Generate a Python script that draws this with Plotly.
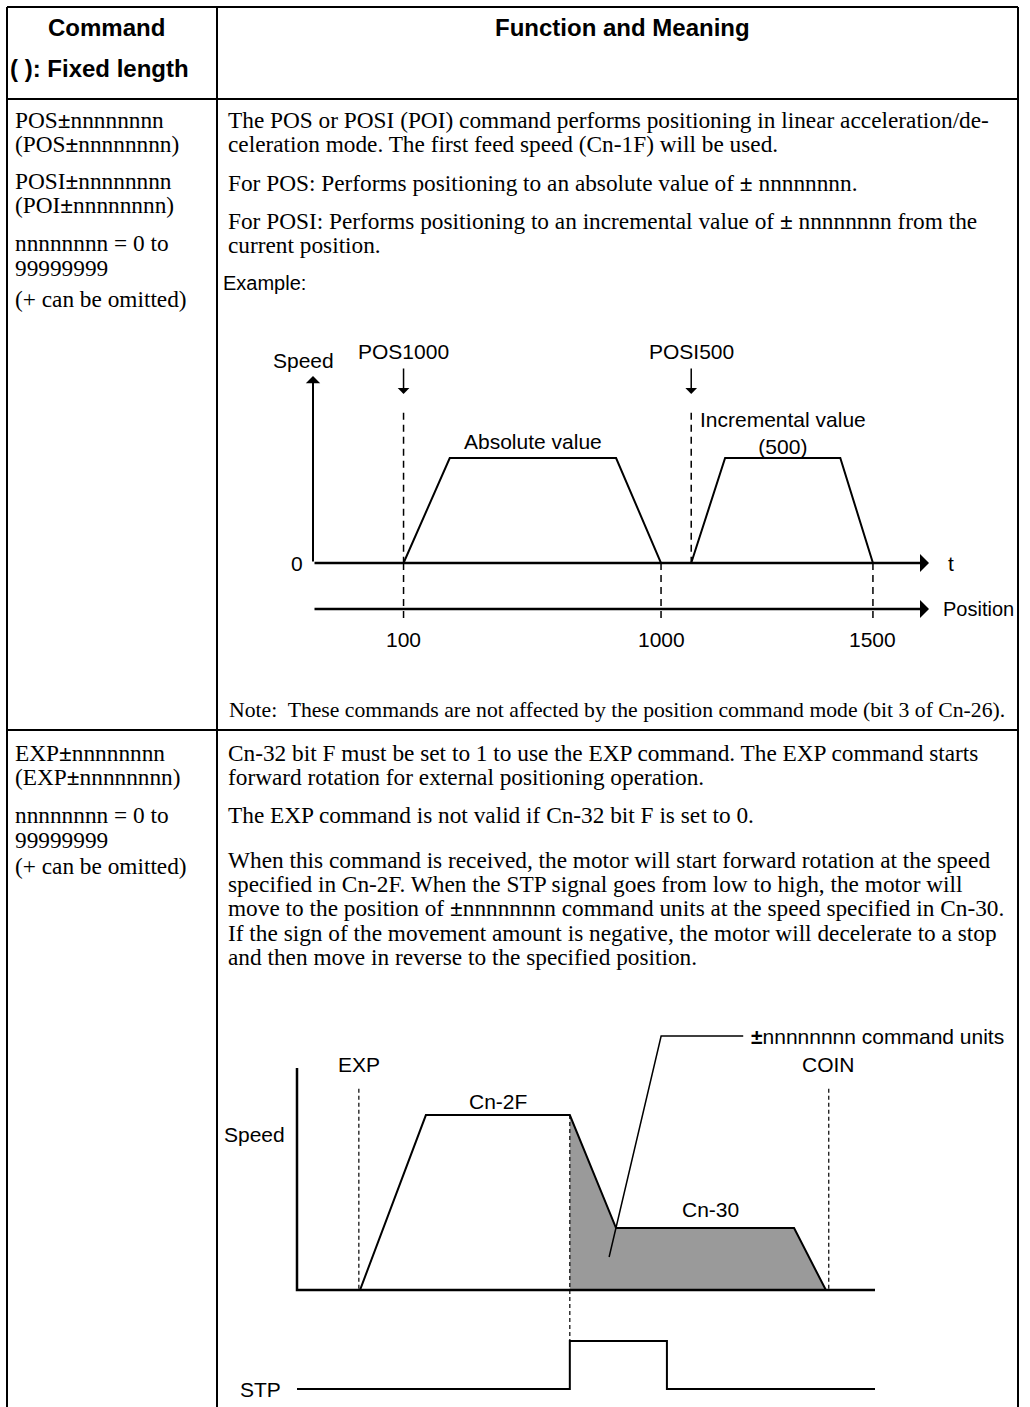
import plotly.graph_objects as go

W, H = 1030, 1407
SERIF = "Liberation Serif, Times New Roman, serif"
SANS = "Liberation Sans, Arial, sans-serif"
PM = "<b>±</b>"

# ---------------- text content ----------------
header_left = ["Command", "( ): Fixed length"]
header_left_y = [27, 68]
header_right = "Function and Meaning"

row1_cmd = [f"POS{PM}nnnnnnnn", f"(POS{PM}nnnnnnnn)", f"POSI{PM}nnnnnnnn",
            f"(POI{PM}nnnnnnnn)", "nnnnnnnn = 0 to", "99999999", "(+ can be omitted)"]
row1_cmd_y = [120, 144, 181, 205, 243, 268, 299]
row1_text = ["The POS or POSI (POI) command performs positioning in linear acceleration/de-",
             "celeration mode. The first feed speed (Cn-1F) will be used.",
             f"For POS: Performs positioning to an absolute value of {PM} nnnnnnnn.",
             f"For POSI: Performs positioning to an incremental value of {PM} nnnnnnnn from the",
             "current position."]
row1_text_y = [120, 144, 183, 221, 245]
example_label = "Example:"
note_text = "Note:\u00a0 These commands are not affected by the position command mode (bit 3 of Cn-26)."

row2_cmd = [f"EXP{PM}nnnnnnnn", f"(EXP{PM}nnnnnnnn)", "nnnnnnnn = 0 to", "99999999", "(+ can be omitted)"]
row2_cmd_y = [753, 777, 815, 840, 866]
row2_text = ["Cn-32 bit F must be set to 1 to use the EXP command. The EXP command starts",
             "forward rotation for external positioning operation.",
             "The EXP command is not valid if Cn-32 bit F is set to 0.",
             "When this command is received, the motor will start forward rotation at the speed",
             "specified in Cn-2F. When the STP signal goes from low to high, the motor will",
             f"move to the position of {PM}nnnnnnnn command units at the speed specified in Cn-30.",
             "If the sign of the movement amount is negative, the motor will decelerate to a stop",
             "and then move in reverse to the specified position."]
row2_text_y = [753, 777, 815, 860, 884, 908, 933, 957]

# ---------------- diagram 1 data (schematic time / speed) ----------------
d1_abs_t = [14.7, 22.2, 49.2, 56.5]
d1_abs_v = [0, 1, 1, 0]
d1_inc_t = [61.4, 66.9, 85.6, 90.9]
d1_inc_v = [0, 1, 1, 0]
d1_cmd_names = ["POS1000", "POSI500"]
d1_cmd_t = [14.7, 61.4]
d1_pos_ticks = ["100", "1000", "1500"]
d1_pos_t = [14.7, 56.5, 90.9]
d1_move_labels = ["Absolute value", "Incremental value<br>(500)"]

# ---------------- diagram 2 data ----------------
d2_t = [10.9, 22.3, 47.2, 55.2, 86.0, 91.5]
d2_v = [0, 1, 1, 0.354, 0.354, 0]
d2_events = ["EXP", "STP", "COIN"]
d2_event_t = [10.7, 47.2, 92.0]
stp_t = [0, 47.2, 47.2, 64.0, 64.0, 100]
stp_v = [0, 0, 1, 1, 0, 0]

fig = go.Figure()

# ---------------- page canvas axes (pixels) ----------------
fig.add_trace(go.Scatter(x=[0], y=[0], mode="markers", marker=dict(opacity=0),
                         xaxis="x", yaxis="y", hoverinfo="skip", showlegend=False))

def py(v):
    return 1 - v / H

def px(v):
    return v / W

# diagram 1: t = 0..100 spans pixels 313..929
k1 = 100 / (929 - 313)
# diagram 2: t = 0..100 spans pixels 297..875
k2 = 100 / (875 - 297)

layout_axes = dict(
    xaxis=dict(range=[0, W], domain=[0, 1], visible=False, fixedrange=True),
    yaxis=dict(range=[H, 0], domain=[0, 1], visible=False, fixedrange=True),
    xaxis2=dict(range=[-(313 - 262) * k1, 100 + (1028 - 929) * k1], domain=[px(262), px(1028)],
                anchor="y2", visible=False),
    yaxis2=dict(range=[-0.876, 2.124], domain=[py(655), py(340)], anchor="x2", visible=False),
    xaxis3=dict(range=[-(297 - 222) * k2, 100 + (1028 - 875) * k2], domain=[px(222), px(1028)],
                anchor="y3", visible=False),
    yaxis3=dict(range=[-0.314, 1.543], domain=[py(1345), py(1020)], anchor="x3", visible=False),
    yaxis4=dict(range=[-0.229, 1.229], domain=[py(1400), py(1330)], anchor="x3", visible=False),
)

# ---------------- table lines ----------------
shapes = []
def hline(y, x0=7, x1=1018):
    shapes.append(dict(type="line", xref="x", yref="y", x0=x0, x1=x1, y0=y, y1=y,
                       line=dict(color="black", width=2)))
def vline(x, y0=7, y1=H):
    shapes.append(dict(type="line", xref="x", yref="y", x0=x, x1=x, y0=y0, y1=y1,
                       line=dict(color="black", width=2)))
hline(7); hline(99); hline(730)
vline(7); vline(217); vline(1018)

ann = []
def text(x, y, s, size=24, family=SERIF, xanchor="left", ref=("x", "y")):
    ann.append(dict(x=x, y=y, text=s, showarrow=False, xref=ref[0], yref=ref[1],
                    xanchor=xanchor, yanchor="middle",
                    font=dict(family=family, size=size, color="black")))

BODY = 23.3
LAB = 21
text(106, header_left_y[0], f"<b>{header_left[0]}</b>", 24, SANS, "center")
text(8, header_left_y[1], f"<b>{header_left[1]}</b>", 24, SANS, "left")
text(622, header_left_y[0], f"<b>{header_right}</b>", 24, SANS, "center")

for s, y in zip(row1_cmd, row1_cmd_y):
    text(13, y, s, BODY)
for s, y in zip(row1_text, row1_text_y):
    text(226, y, s, BODY)
text(221, 283, example_label, 20, SANS)
text(227, 710, note_text, 21.7)
for s, y in zip(row2_cmd, row2_cmd_y):
    text(13, y, s, BODY)
for s, y in zip(row2_text, row2_text_y):
    text(226, y, s, BODY)

# ---------------- diagram 1 ----------------
R2 = ("x2", "y2")
def arrow(x0, y0, x1, y1, ref, width=2.5, size=1.2):
    ann.append(dict(x=x1, y=y1, ax=x0, ay=y0, xref=ref[0], yref=ref[1],
                    axref=ref[0], ayref=ref[1], text="", showarrow=True,
                    arrowhead=1, arrowsize=size, arrowwidth=width, arrowcolor="black",
                    standoff=0, startstandoff=0))

arrow(0, 0, 0, 1.78, R2, 2)
arrow(0, 0, 100, 0, R2, 2.5)
arrow(0, -0.438, 100, -0.438, R2, 2.5)
text(-2.6, 0, "0", LAB, SANS, "center", R2)
text(102.8, 0, "t", LAB, SANS, "left", R2)
text(101.9, -0.438, "Position", 20, SANS, "left", R2)
text(-1.5, 1.93, "Speed", LAB, SANS, "center", R2)

for name, t in zip(d1_cmd_names, d1_cmd_t):
    text(t, 2.01, name, LAB, SANS, "center", R2)
    arrow(t, 1.867, t, 1.61, R2, 1.5, 1.3)
    fig.add_trace(go.Scatter(x=[t, t], y=[1.43, 0], mode="lines", xaxis="x2", yaxis="y2",
                             line=dict(color="black", width=1.5, dash="7px,5px"),
                             hoverinfo="skip", showlegend=False))
for lab, t in zip(d1_pos_ticks, d1_pos_t):
    fig.add_trace(go.Scatter(x=[t, t], y=[0, -0.55], mode="lines", xaxis="x2", yaxis="y2",
                             line=dict(color="black", width=1.5, dash="7px,5px"),
                             hoverinfo="skip", showlegend=False))
    text(t, -0.733, lab, LAB, SANS, "center", R2)

for tt, vv in [(d1_abs_t, d1_abs_v), (d1_inc_t, d1_inc_v)]:
    fig.add_trace(go.Scatter(x=tt, y=vv, mode="lines", xaxis="x2", yaxis="y2",
                             line=dict(color="black", width=2),
                             hoverinfo="skip", showlegend=False))
text((d1_abs_t[1] + d1_abs_t[2]) / 2, 1.162, d1_move_labels[0], LAB, SANS, "center", R2)
ann.append(dict(x=(d1_inc_t[1] + d1_inc_t[2]) / 2, y=1.24, text=d1_move_labels[1],
                showarrow=False, xref="x2", yref="y2", xanchor="center", yanchor="middle",
                font=dict(family=SANS, size=LAB, color="black")))

# ---------------- diagram 2 ----------------
R3 = ("x3", "y3")
stp_time = d2_event_t[1]
fill_t = [stp_time] + [t for t in d2_t if t >= stp_time] + [stp_time]
fill_v = [0] + [v for t, v in zip(d2_t, d2_v) if t >= stp_time] + [0]
fig.add_trace(go.Scatter(x=fill_t, y=fill_v, mode="lines", fill="toself",
                         fillcolor="#9a9a9a", line=dict(width=0), xaxis="x3", yaxis="y3",
                         hoverinfo="skip", showlegend=False))
fig.add_trace(go.Scatter(x=[0, 0, 100], y=[1.269, 0, 0], mode="lines", xaxis="x3", yaxis="y3",
                         line=dict(color="black", width=2.5), hoverinfo="skip", showlegend=False))
fig.add_trace(go.Scatter(x=d2_t, y=d2_v, mode="lines", xaxis="x3", yaxis="y3",
                         line=dict(color="black", width=2), hoverinfo="skip", showlegend=False))
for ev, t in zip(d2_events, d2_event_t):
    if ev == "STP":
        yy = [1.0, -0.291]
    else:
        yy = [1.15, 0]
        text(t, 1.29, ev, LAB, SANS, "center", R3)
    fig.add_trace(go.Scatter(x=[t, t], y=yy, mode="lines", xaxis="x3", yaxis="y3",
                             line=dict(color="black", width=1.2, dash="4px,3px"),
                             hoverinfo="skip", showlegend=False))
text((d2_t[1] + d2_t[2]) / 2, 1.08, "Cn-2F", LAB, SANS, "center", R3)
text((d2_t[3] + d2_t[4]) / 2 + 0.9, 0.463, "Cn-30", LAB, SANS, "center", R3)
text(-7.4, 0.891, "Speed", LAB, SANS, "center", R3)
fig.add_trace(go.Scatter(x=[54.0, 63.0, 77.2], y=[0.189, 1.451, 1.451], mode="lines",
                         xaxis="x3", yaxis="y3", line=dict(color="black", width=1.5),
                         hoverinfo="skip", showlegend=False))
text(78.2, 1.451, f"{PM}nnnnnnnn command units", LAB, SANS, "left", R3)

fig.add_trace(go.Scatter(x=stp_t, y=stp_v, mode="lines", xaxis="x3", yaxis="y4",
                         line=dict(color="black", width=2), hoverinfo="skip", showlegend=False))
text(-6.4, 0, "STP", LAB, SANS, "center", ("x3", "y4"))

fig.update_layout(
    width=W, height=H, margin=dict(l=0, r=0, t=0, b=0),
    paper_bgcolor="white", plot_bgcolor="rgba(0,0,0,0)",
    showlegend=False, shapes=shapes, annotations=ann, hovermode=False,
    **layout_axes,
)

fig.write_html("out.html", config={"displayModeBar": False, "staticPlot": True},
               post_script="document.body.style.margin='0';document.body.style.overflow='hidden';")
